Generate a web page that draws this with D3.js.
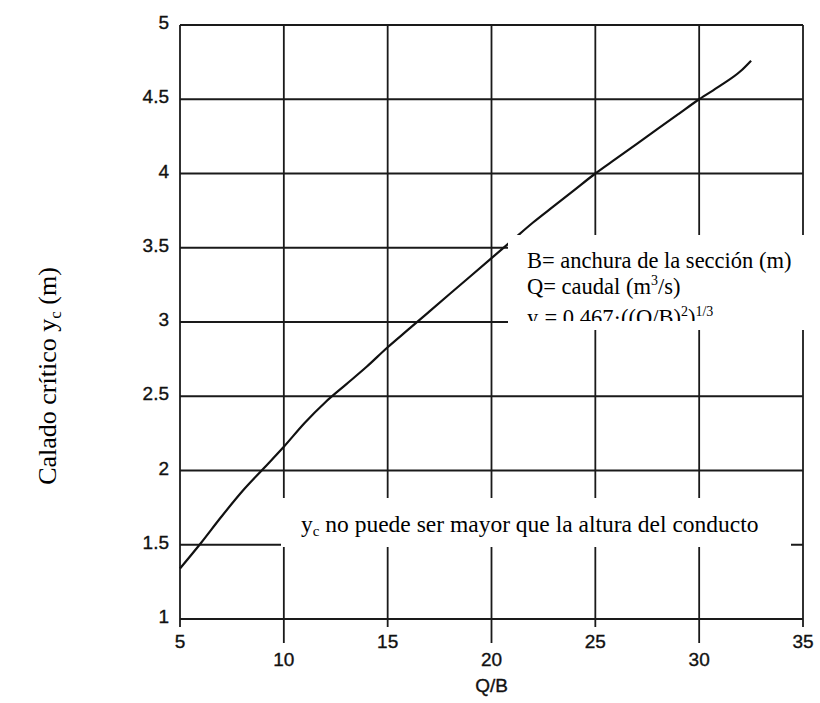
<!DOCTYPE html>
<html>
<head>
<meta charset="utf-8">
<script src="https://cdn.jsdelivr.net/npm/d3@7"></script>
<style>
  body { margin: 0; background: #fff; }
  .tick-label { font-family: "Liberation Sans", Arial, sans-serif; font-size: 19px; fill: #111; stroke: #111; stroke-width: 0.35px; }
  .serif { font-family: "Liberation Serif", "Times New Roman", serif; fill: #000; }
</style>
</head>
<body>
<div id="chart"></div>
<script>
// values
var qb = [5, 6, 7, 8, 9, 10, 11, 12, 13, 14, 15, 16, 17, 18, 19, 20, 21, 22, 23, 24, 25, 26, 27, 28, 29, 30, 31, 32, 32.5];
var yc = [1.34, 1.51, 1.69, 1.86, 2.01, 2.16, 2.32, 2.46, 2.58, 2.70, 2.83, 2.95, 3.07, 3.19, 3.31, 3.43, 3.55, 3.67, 3.78, 3.89, 4.00, 4.10, 4.20, 4.30, 4.40, 4.50, 4.59, 4.69, 4.76];
var xTicks = [5, 10, 15, 20, 25, 30, 35];
var yTicks = [1, 1.5, 2, 2.5, 3, 3.5, 4, 4.5, 5];
var yTickLabels = ["1", "1.5", "2", "2.5", "3", "3.5", "4", "4.5", "5"];

var svgWidth = 820;
var svgHeight = 703;
var margin = { top: 25, right: 17, bottom: 84, left: 180 };
var chartWidth = svgWidth - margin.left - margin.right;
var chartHeight = svgHeight - margin.top - margin.bottom;

var svg = d3.select("#chart")
  .append("svg")
  .attr("width", svgWidth)
  .attr("height", svgHeight);

var chartGroup = svg.append("g")
  .attr("transform", `translate(${margin.left}, ${margin.top})`);

var xScale = d3.scaleLinear().domain([5, 35]).range([0, chartWidth]);
var yScale = d3.scaleLinear().domain([1, 5]).range([chartHeight, 0]);

// horizontal grid
chartGroup.selectAll(".hgrid")
  .data(yTicks)
  .enter()
  .append("line")
  .attr("x1", 0)
  .attr("x2", chartWidth)
  .attr("y1", d => yScale(d))
  .attr("y2", d => yScale(d))
  .attr("stroke", "#1a1a1a")
  .attr("stroke-width", 1.8);

// vertical grid, the 10/20/30 lines run further down to their labels
chartGroup.selectAll(".vgrid")
  .data(xTicks)
  .enter()
  .append("line")
  .attr("x1", d => xScale(d))
  .attr("x2", d => xScale(d))
  .attr("y1", 0)
  .attr("y2", (d, i) => chartHeight + (i % 2 ? 24 : 8))
  .attr("stroke", "#1a1a1a")
  .attr("stroke-width", 1.8);

// y tick labels
chartGroup.selectAll(".ylab")
  .data(yTicks)
  .enter()
  .append("text")
  .attr("class", "tick-label")
  .attr("x", -11)
  .attr("y", d => yScale(d) + 4)
  .attr("text-anchor", "end")
  .text((d, i) => yTickLabels[i]);

// x tick labels, staggered in two rows
chartGroup.selectAll(".xlab")
  .data(xTicks)
  .enter()
  .append("text")
  .attr("class", "tick-label")
  .attr("x", d => xScale(d))
  .attr("y", (d, i) => chartHeight + (i % 2 ? 47 : 29))
  .attr("text-anchor", "middle")
  .text(d => d);

chartGroup.append("text")
  .attr("class", "tick-label")
  .attr("x", xScale(20))
  .attr("y", chartHeight + 73)
  .attr("text-anchor", "middle")
  .text("Q/B");

// curve
var line = d3.line()
  .curve(d3.curveMonotoneX)
  .x(d => xScale(d[0]))
  .y(d => yScale(d[1]));

chartGroup.append("path")
  .datum(qb.map((q, i) => [q, yc[i]]))
  .attr("d", line)
  .attr("fill", "none")
  .attr("stroke", "#111")
  .attr("stroke-width", 2.2);

// white text boxes pasted over the grid
svg.append("rect")
  .attr("x", 508).attr("y", 235)
  .attr("width", 312).attr("height", 95)
  .attr("fill", "#fff");

svg.append("rect")
  .attr("x", 281).attr("y", 498)
  .attr("width", 510).attr("height", 49)
  .attr("fill", "#fff");

svg.append("clipPath")
  .attr("id", "boxClip")
  .append("rect")
  .attr("x", 508).attr("y", 235)
  .attr("width", 312).attr("height", 86);

var legend = svg.append("g").attr("clip-path", "url(#boxClip)");

legend.append("text")
  .attr("class", "serif")
  .attr("x", 527).attr("y", 268)
  .attr("font-size", 22.5)
  .text("B= anchura de la sección (m)");

var l2 = legend.append("text")
  .attr("class", "serif")
  .attr("x", 527).attr("y", 294)
  .attr("font-size", 22.5);
l2.append("tspan").text("Q= caudal (m");
l2.append("tspan").attr("font-size", 14).attr("dy", -9).text("3");
l2.append("tspan").attr("dy", 9).text("/s)");

var l3 = legend.append("text")
  .attr("class", "serif")
  .attr("x", 527).attr("y", 325)
  .attr("font-size", 22.5);
l3.append("tspan").text("y");
l3.append("tspan").attr("font-size", 14).attr("dy", 4).text("c");
l3.append("tspan").attr("dy", -4).text("= 0.467·((Q/B)");
l3.append("tspan").attr("font-size", 14).attr("dy", -9).text("2");
l3.append("tspan").attr("dy", 9).text(")");
l3.append("tspan").attr("font-size", 14).attr("dy", -9).text("1/3");

var note = svg.append("text")
  .attr("class", "serif")
  .attr("x", 301).attr("y", 532)
  .attr("font-size", 23.5);
note.append("tspan").text("y");
note.append("tspan").attr("font-size", 15).attr("dy", 4).text("c");
note.append("tspan").attr("dy", -4).text(" no puede ser mayor que la altura del conducto");

// y axis title
var yTitle = svg.append("text")
  .attr("class", "serif")
  .attr("transform", "translate(56, 376) rotate(-90)")
  .attr("text-anchor", "middle")
  .attr("font-size", 26);
yTitle.append("tspan").text("Calado crítico y");
yTitle.append("tspan").attr("font-size", 17).attr("dy", 5).text("c");
yTitle.append("tspan").attr("dy", -5).text(" (m)");
</script>
</body>
</html>
